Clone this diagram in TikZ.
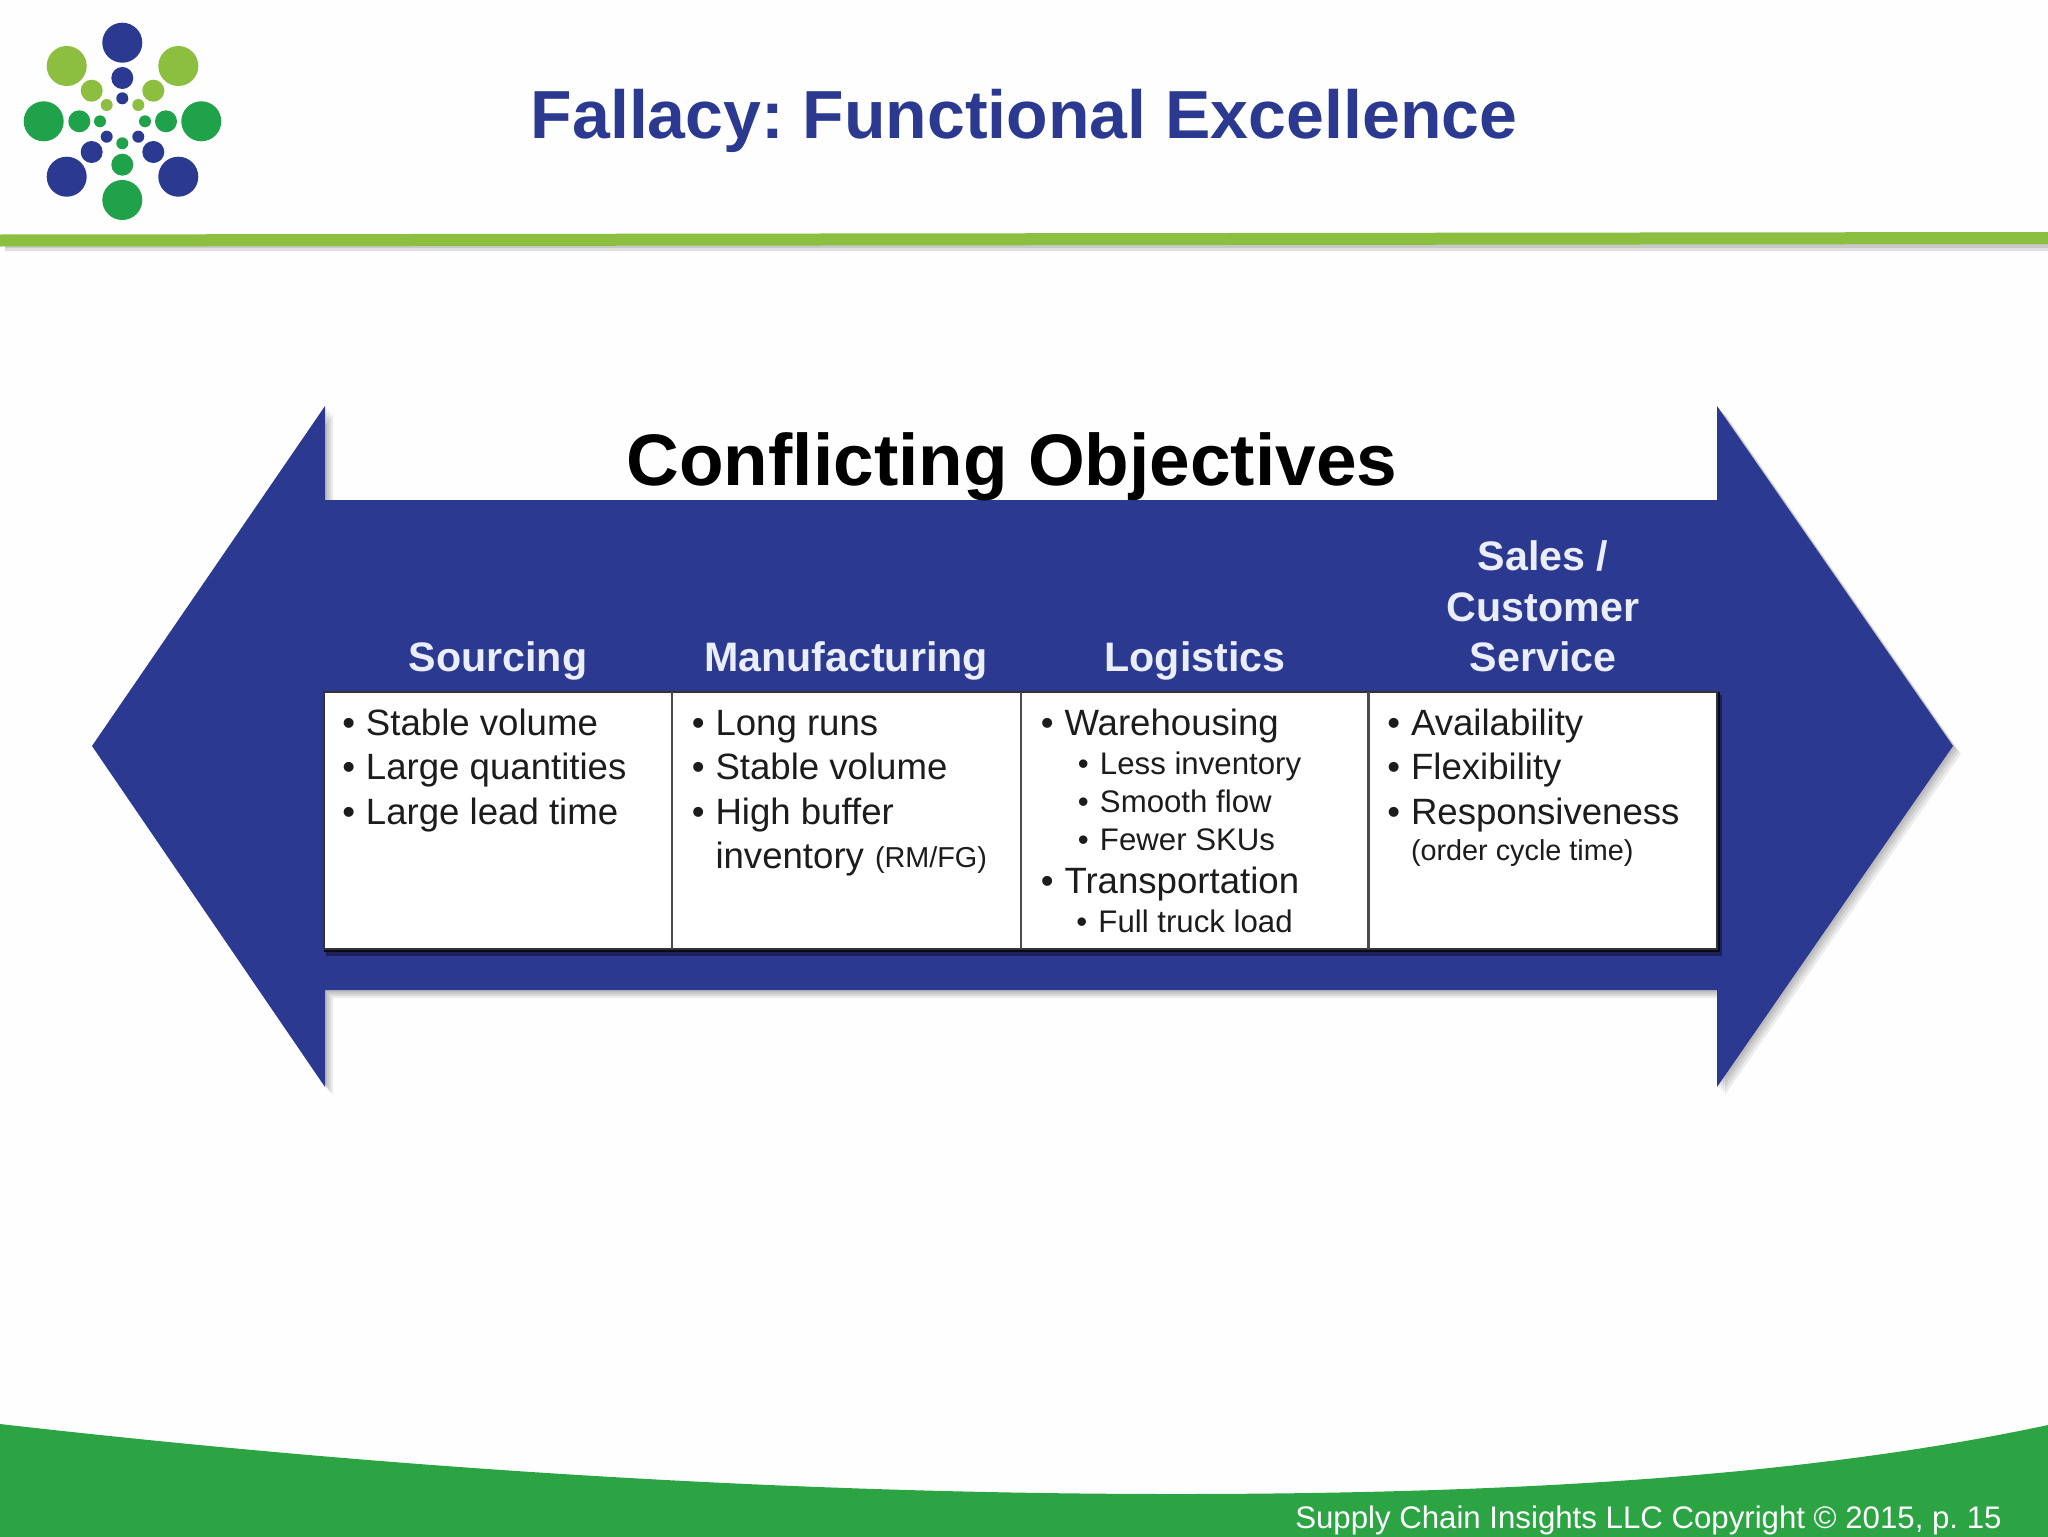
\documentclass[tikz,border=0pt]{standalone}
\usepackage{fontspec}
\setmainfont{Liberation Sans}
\frenchspacing
\definecolor{navy}{HTML}{2B3990}
\definecolor{lgreen}{HTML}{8CBF3F}
\definecolor{mgreen}{HTML}{1FA24A}
\definecolor{fgreen}{HTML}{2CA444}
\definecolor{hdr}{HTML}{EAEEFB}
\definecolor{ink}{HTML}{1C1C1C}
\newcommand{\dotpt}[4]{\fill[#1] (#2,#3) circle[radius=#4];}
\tikzset{
  label base/.style={anchor=base west,inner sep=0pt,outer sep=0pt,text=ink},
  mainitem/.style={label base,font=\fontsize{18.3}{20}\selectfont},
  subitem/.style={label base,font=\fontsize{15.6}{18}\selectfont},
  noteitem/.style={label base,font=\fontsize{14.4}{18}\selectfont},
  header/.style={anchor=base,inner sep=0pt,outer sep=0pt,text=hdr,font=\fontsize{20.6}{24}\selectfont\bfseries},
}
\newcommand{\mb}[1]{\makebox[0pt][r]{•\hspace{5.4pt}}#1}
\newcommand{\sbl}[1]{\makebox[0pt][r]{•\hspace{5.6pt}}#1}
\begin{document}
\begin{tikzpicture}[x=0.5pt,y=-0.5pt]
\useasboundingbox (0,0) rectangle (2048,1536);
\fill[white!99.5!black] (0,0) rectangle (2048,1536);
% header rule
\fill[black,opacity=.12] (5,240) rectangle (2048,251);
\fill[black,opacity=.10] (5,240) rectangle (2048,248);
\fill[lgreen] (0,234.5) -- (2048,232) -- (2048,244) -- (0,246.5) -- cycle;
% logo
\foreach \x/\y in {122.3/42.7,66.7/176.7,178.3/176.7}{\dotpt{navy}{\x}{\y}{20}}
\foreach \x/\y in {66.7/66,178.3/66}{\dotpt{lgreen}{\x}{\y}{20}}
\foreach \x/\y in {43.7/121.3,201.3/121.3,122.3/200}{\dotpt{mgreen}{\x}{\y}{20}}
\foreach \x/\y in {122.3/78,91.7/152,153.3/152}{\dotpt{navy}{\x}{\y}{11}}
\foreach \x/\y in {91.7/90.7,153.3/90.7}{\dotpt{lgreen}{\x}{\y}{11}}
\foreach \x/\y in {79.3/121.3,166/121.3,122.3/164.7}{\dotpt{mgreen}{\x}{\y}{11}}
\foreach \x/\y in {122.3/98.3,106.7/136.7,138.3/136.7}{\dotpt{navy}{\x}{\y}{6}}
\foreach \x/\y in {106.7/105,138.3/105}{\dotpt{lgreen}{\x}{\y}{6}}
\foreach \x/\y in {100/121.3,145/121.3,122.3/143.3}{\dotpt{mgreen}{\x}{\y}{6}}
% title
\node[anchor=base,inner sep=0,text=navy,font=\fontsize{34}{38}\selectfont\bfseries] (title) at (1024,139) {Fallacy: Functional Excellence};
% arrow shadow
\foreach \d in {2,4,6,8}{
\fill[black,opacity=.07,shift={(\d*.5pt,-\d*.5pt)}] (92,746) -- (325,406) -- (325,500) -- (1717,500) -- (1717,406) -- (1953,746) -- (1717,1087) -- (1717,990) -- (325,990) -- (325,1087) -- cycle;}
% arrow
\fill[navy] (92,746) -- (325,406) -- (325,500) -- (1717,500) -- (1717,406) -- (1953,746) -- (1717,1087) -- (1717,990) -- (325,990) -- (325,1087) -- cycle;
\node[anchor=base,inner sep=0,text=black,font=\fontsize{36.5}{40}\selectfont\bfseries] (conflict) at (1012,485) {Conflicting Objectives};
% table
\fill[black!80!navy,opacity=.5] (326,695) rectangle (1722,956);
\fill[black!80!navy] (324,692) rectangle (1720,952);
\fill[white] (324,692) rectangle (1717,949);
\draw[line width=1.4pt,black!80] (324,692) rectangle (1717,949);
\foreach \x in {672,1021,1368.5}{\draw[line width=1.4pt,black!70] (\x,692) -- (\x,949);}
% headers
\node[header] (h1) at (498,671) {Sourcing};
\node[header] (h2) at (846,671) {Manufacturing};
\node[header] (h3) at (1195,671) {Logistics};
\node[header] (h4a) at (1543,570) {Sales /};
\node[header] (h4b) at (1543,621) {Customer};
\node[header] (h4c) at (1543,671) {Service};
% column 1
\node[mainitem] (a1) at (366,735) {\mb{Stable volume}};
\node[mainitem] (a2) at (366,779) {\mb{Large quantities}};
\node[mainitem] (a3) at (366,824) {\mb{Large lead time}};
% column 2
\node[mainitem] (b1) at (715.5,735) {\mb{Long runs}};
\node[mainitem] (b2) at (715.5,779) {\mb{Stable volume}};
\node[mainitem] (b3) at (715.5,824) {\mb{High buffer}};
\node[mainitem] (b4) at (715.5,868) {inventory};
\node[noteitem] (b5) at (875,867) {(RM/FG)};
% column 3
\node[mainitem] (c1) at (1064.5,735) {\mb{Warehousing}};
\node[subitem] (c2) at (1100,774) {\sbl{Less inventory}};
\node[subitem] (c3) at (1100,812) {\sbl{Smooth flow}};
\node[subitem] (c4) at (1100,850) {\sbl{Fewer SKUs}};
\node[mainitem] (c5) at (1064.5,893) {\mb{Transportation}};
\node[subitem] (c6) at (1098.5,932) {\sbl{Full truck load}};
% column 4
\node[mainitem] (d1) at (1411,735) {\mb{Availability}};
\node[mainitem] (d2) at (1411,779) {\mb{Flexibility}};
\node[mainitem] (d3) at (1411,824) {\mb{Responsiveness}};
\node[noteitem] (d4) at (1411,860) {(order cycle time)};
% footer
\fill[fgreen] (0,1424) .. controls (420,1472) and (820,1494) .. (1175,1494) .. controls (1500,1494) and (1800,1478) .. (2048,1425) -- (2048,1540) -- (0,1540) -- cycle;
\node[anchor=base east,inner sep=0,text=white,font=\fontsize{15.6}{18}\selectfont] (foot) at (2002,1528) {Supply Chain Insights LLC Copyright © 2015, p. 15};
\end{tikzpicture}
\end{document}
